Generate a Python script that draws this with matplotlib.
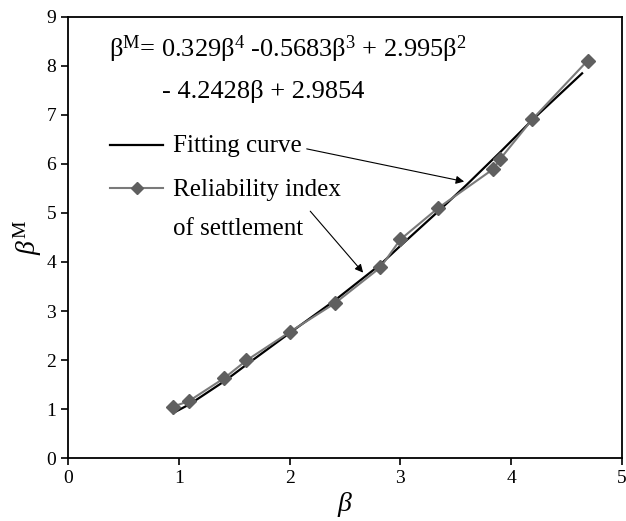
import numpy as np
import matplotlib
matplotlib.use("Agg")
import matplotlib.pyplot as plt

plt.rcParams['font.family'] = ['Liberation Serif', 'DejaVu Serif']
plt.rcParams['mathtext.fontset'] = 'custom'
plt.rcParams['mathtext.rm'] = 'Liberation Serif'
plt.rcParams['mathtext.it'] = 'Liberation Serif:italic'

# reliability index of settlement (measured points)
beta_pts = [0.95, 1.09, 1.41, 1.61, 2.0, 2.41, 2.82, 3.0, 3.34, 3.84, 3.9, 4.19, 4.69]
betaM_pts = [1.05, 1.16, 1.63, 1.99, 2.57, 3.16, 3.89, 4.46, 5.10, 5.90, 6.10, 6.91, 8.11]

# fitting curve
beta_fit = [0.95, 1.1, 1.42, 1.62, 2.0, 2.41, 2.82, 3.0, 3.34, 3.6, 3.9, 4.2, 4.64]
betaM_fit = [0.92, 1.10, 1.58, 1.92, 2.55, 3.22, 3.95, 4.33, 5.03, 5.58, 6.24, 6.92, 7.85]

fig = plt.figure(figsize=(6.26, 5.21), dpi=100)
ax = fig.add_axes([0.1086, 0.1209, 0.885, 0.8465])

ax.plot(beta_fit, betaM_fit, color='black', lw=1.6)
ax.plot(beta_pts, betaM_pts, color='#7a7a7a', lw=1.5, marker='D',
        markersize=7, markerfacecolor='#5f5f5f', markeredgecolor='#5f5f5f')

ax.set_xlim(0, 5)
ax.set_ylim(0, 9)
ax.set_xticks(range(0, 6))
ax.set_yticks(range(0, 10))
ax.tick_params(direction='out', length=5, width=1.2, labelsize=14, top=False, right=False)
for s in ax.spines.values():
    s.set_linewidth(1.3)

ax.set_xlabel(r'$\it{\beta}$', fontsize=20, labelpad=2)
ax.set_ylabel(r'$\it{\beta}^{\mathrm{M}}$', fontsize=20, labelpad=2)

# equation
ax.text(0.37, 8.18, r'β$^{\mathrm{M}}$= 0.329β$^{4}$ -0.5683β$^{3}$ + 2.995β$^{2}$',
        fontsize=19, va='baseline', ha='left')
ax.text(0.85, 7.35, '- 4.2428β + 2.9854', fontsize=19, va='baseline', ha='left')

# legend drawn by hand
ax.plot([0.38, 0.86], [6.39, 6.39], color='black', lw=1.6)
ax.text(0.945, 6.24, 'Fitting curve', fontsize=18, va='baseline', ha='left')
ax.plot([0.38, 0.86], [5.52, 5.52], color='#7a7a7a', lw=1.5)
ax.plot([0.62], [5.52], marker='D', markersize=6, color='#5f5f5f')
ax.text(0.945, 5.34, 'Reliability index', fontsize=18, va='baseline', ha='left')
ax.text(0.945, 4.56, 'of settlement', fontsize=18, va='baseline', ha='left')

ax.annotate('', xy=(3.6, 5.63), xytext=(2.13, 6.32),
            arrowprops=dict(arrowstyle='-|>', color='black', lw=0.8, mutation_scale=12))
ax.annotate('', xy=(2.68, 3.74), xytext=(2.17, 5.08),
            arrowprops=dict(arrowstyle='-|>', color='black', lw=0.8, mutation_scale=12))

fig.savefig('out.png', dpi=100)
